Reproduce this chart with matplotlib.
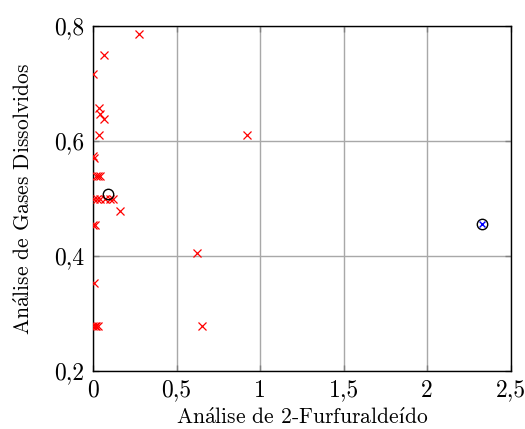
import matplotlib
matplotlib.use('Agg')
import matplotlib.pyplot as plt

plt.rcParams['font.family'] = ['cmr10', 'DejaVu Serif']
plt.rcParams['mathtext.fontset'] = 'cm'
plt.rcParams['axes.formatter.use_mathtext'] = True

# red crosses (2-FAL vs DGA)
fur_x = [0.277, 0.066, 0.0, 0.036, 0.042, 0.066, 0.034, 0.923,
         0.0, 0.005, 0.018, 0.030, 0.042,
         0.005, 0.025, 0.045, 0.070, 0.100, 0.120,
         0.163, 0.0, 0.010, 0.624, 0.008,
         0.0, 0.010, 0.020, 0.030, 0.652]
dga_y = [0.787, 0.750, 0.716, 0.657, 0.647, 0.639, 0.611, 0.611,
         0.574, 0.570, 0.540, 0.540, 0.540,
         0.500, 0.500, 0.500, 0.500, 0.500, 0.500,
         0.479, 0.454, 0.454, 0.405, 0.354,
         0.278, 0.278, 0.278, 0.278, 0.278]

# centroids
c1 = (0.09, 0.508)
c2 = (2.33, 0.455)

xticks = [0, 0.5, 1, 1.5, 2, 2.5]
xtick_labels = ['0', '0,5', '1', '1,5', '2', '2,5']
yticks = [0.2, 0.4, 0.6, 0.8]
ytick_labels = ['0,2', '0,4', '0,6', '0,8']

fig = plt.figure(figsize=(5.25, 4.29), dpi=100)
ax = fig.add_axes([0.177, 0.135, 0.796, 0.804])

ax.plot(fur_x, dga_y, 'x', color='red', markersize=5.5, markeredgewidth=0.9, zorder=3)
ax.plot(c1[0], c1[1], 'o', mfc='none', mec='black', markersize=7.5, markeredgewidth=1, zorder=4)
ax.plot(c2[0], c2[1], 'o', mfc='none', mec='black', markersize=7.5, markeredgewidth=1, zorder=4)
ax.plot(c2[0], c2[1], 'x', color='blue', markersize=5, markeredgewidth=1, zorder=5)

ax.set_xlim(0, 2.5)
ax.set_ylim(0.2, 0.8)
ax.set_xticks(xticks)
ax.set_xticklabels(xtick_labels)
ax.set_yticks(yticks)
ax.set_yticklabels(ytick_labels)
ax.grid(True, color='#a8a8a8', linewidth=1)
ax.set_axisbelow(True)
ax.tick_params(direction='in', length=4, width=1, color='#808080',
               top=True, right=True, labelsize=17, pad=6)
for s in ax.spines.values():
    s.set_linewidth(1)

ax.set_xlabel('An$\\mathrm{\\acute{a}}$lise de 2-Furfurald$\\mathrm{e\\acute{\u0131}}$do',
              fontsize=15.5, labelpad=4)
ax.set_ylabel(r'An$\mathrm{\acute{a}}$lise de Gases Dissolvidos', fontsize=15.5, labelpad=15)

fig.savefig('out.png', dpi=100)
